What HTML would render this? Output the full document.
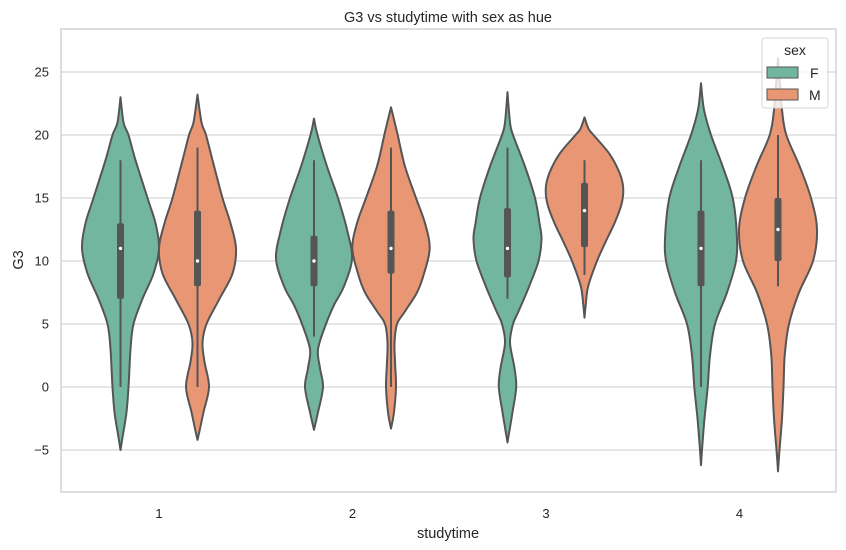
<!DOCTYPE html>
<html><head><meta charset="utf-8"><style>
body{margin:0;background:#fff;}
svg{display:block;font-family:"Liberation Sans","DejaVu Sans",sans-serif;}
</style></head><body>
<svg id="chart" width="846" height="550" viewBox="0 0 846 550"></svg>
<script>
const categories = ["1","2","3","4"];
const hues = ["F","M"];
const yTicks = [-5,0,5,10,15,20,25];
// violin profiles: [G3 value, relative density half-width]
const profileF1 = [[23,0],[21,3],[20,8],[18,15],[15,27],[13,35],[11,38.5],[9,33],[7,22],[5,13],[3,10],[0,8],[-2,6],[-4,2],[-5,0]];
const profileM1 = [[23.2,0],[21,4],[20,8.5],[18,15],[15,25],[13,33],[11,38.5],[9,35],[7,22],[5,9],[3.5,5],[2,7],[0,11.5],[-2,6],[-3.5,2],[-4.2,0]];
const profileF2 = [[21.3,0],[20,3.5],[17.5,13],[15,24],[12.5,33],[10.2,38],[8,30],[6.5,20],[5,12],[3,4],[1.5,6],[0,9],[-2,4],[-3.4,0]];
const profileM2 = [[22.2,0],[20,6.7],[17.5,14],[15,25],[13,34],[11,38.7],[9,33],[7.5,26],[6,14],[5,6],[3.5,3.5],[2,4],[0,5],[-2,3],[-3.3,0]];
const profileF3 = [[23.4,0],[21,2.5],[20,5.5],[17.5,17.5],[15,27.5],[13,32],[11.7,34],[10,31],[8,21.7],[6,11],[5,5.5],[3.5,2.5],[1.5,7],[0,8.7],[-2,5],[-4.4,0]];
const profileM3 = [[21.4,0],[20.5,4],[20,9],[18.5,25],[17,35],[15.8,38.7],[14.5,37],[13,30],[11.5,21],[10,12.5],[8,3.7],[6.5,1.2],[5.5,0]];
const profileF4 = [[24.1,0],[22,3],[20,10],[17.5,21.7],[15,31.7],[12.1,35.8],[10,35],[7.5,26],[5,14],[2.5,9],[0,6.7],[-2.5,3.5],[-5,1],[-6.2,0]];
const profileM4 = [[26.1,0],[24,2],[22,4],[20,8.3],[17.5,21.7],[15,33],[12.5,39],[10,35],[7.5,21],[5,11],[2.5,6.7],[0,5.5],[-2.5,4],[-5,1.5],[-6.7,0]];
const profiles = [[profileF1,profileM1],[profileF2,profileM2],[profileF3,profileM3],[profileF4,profileM4]];
// box stats: [whiskerLow, q1, median, q3, whiskerHigh]
const boxF = [[0,7,11,13,18],[4,8,10,12,18],[7,8.7,11,14.2,19],[0,8,11,14,18]];
const boxM = [[0,8,10,14,19],[0,9,11,14,19],[8.9,11.1,14,16.2,18],[8,10,12.5,15,20]];

const NS="http://www.w3.org/2000/svg";
const svg=document.getElementById('chart');
const L=61,R=836,T=29,B=492;
const y=v=>387-v*12.6;
const xc=i=>159+193.5*i;
const dodge=h=>h===0?-38.5:38.5;
const wScale=1.0;
const colors=["#73b6a0","#e99675"];
function mk(tag,attrs,parent){const e=document.createElementNS(NS,tag);for(const k in attrs)e.setAttribute(k,attrs[k]);(parent||svg).appendChild(e);return e;}
yTicks.forEach(t=>{
  const g=mk('line',{x1:L,x2:R,y1:y(t),y2:y(t),stroke:'#cccccc','stroke-width':1.1});
  
  
  const tx=mk('text',{x:L-12,y:y(t)+4.5,'text-anchor':'end','font-size':13,fill:'#262626'});
  tx.textContent=t<0?'\u2212'+Math.abs(t):t;
  
  
});
categories.forEach((c,i)=>{
  const tx=mk('text',{x:xc(i),y:518,'text-anchor':'middle','font-size':13,fill:'#262626'});
  tx.textContent=c;
  
  
});
function smoothSide(pts){
  let d='';
  for(let i=0;i<pts.length-1;i++){
    const p0=pts[Math.max(0,i-1)],p1=pts[i],p2=pts[i+1],p3=pts[Math.min(pts.length-1,i+2)];
    const c1=[p1[0]+(p2[0]-p0[0])/6,p1[1]+(p2[1]-p0[1])/6];
    const c2=[p2[0]-(p3[0]-p1[0])/6,p2[1]-(p3[1]-p1[1])/6];
    d+=` C${c1[0].toFixed(1)},${c1[1].toFixed(1)} ${c2[0].toFixed(1)},${c2[1].toFixed(1)} ${p2[0].toFixed(1)},${p2[1].toFixed(1)}`;
  }
  return d;
}
profiles.forEach((pair,i)=>{
  pair.forEach((prof,h)=>{
    const cx=xc(i)+dodge(h);
    const right=prof.map(p=>[cx+p[1]*wScale,y(p[0])]);
    const left=prof.slice().reverse().map(p=>[cx-p[1]*wScale,y(p[0])]);
    let d=`M${right[0][0]},${right[0][1]}`+smoothSide(right)+` L${left[0][0]},${left[0][1]}`+smoothSide(left)+'Z';
    const v=mk('path',{d:d,fill:colors[h],stroke:'#555555','stroke-width':2,'stroke-linejoin':'round'});
    
    
    const b=(h===0?boxF:boxM)[i];
    const wl=mk('line',{x1:cx,x2:cx,y1:y(b[0]),y2:y(b[4]),stroke:'#555555','stroke-width':2});
    
    
    const bx=mk('rect',{x:cx-3.5,y:y(b[3]),width:7,height:y(b[1])-y(b[3]),rx:2,fill:'#555555'});
    
    
    const md=mk('circle',{cx:cx,cy:y(b[2]),r:1.7,fill:'#fff'});
    
    
  });
});
const sp=mk('rect',{x:L,y:T,width:R-L,height:B-T,fill:'none',stroke:'#cccccc','stroke-width':1.3});


</script>
<script>
const s=document.getElementById('chart');
s.insertAdjacentHTML('beforeend',`
<text x="448" y="22" text-anchor="middle" font-size="14.5" fill="#262626">G3 vs studytime with sex as hue</text>
<text x="448" y="538" text-anchor="middle" font-size="14.5" fill="#262626">studytime</text>
<text transform="translate(23,260) rotate(-90)" text-anchor="middle" font-size="14.5" fill="#262626">G3</text>
<g>
<rect x="762" y="38" width="66" height="70" rx="3" fill="#ffffff" fill-opacity="0.8" stroke="#d6d6d6"/>
<text x="795" y="55" text-anchor="middle" font-size="14" fill="#262626">sex</text>
<rect x="767" y="67" width="31" height="11" fill="#73b6a0" stroke="#555555"/>
<text x="810" y="78" font-size="14" fill="#262626">F</text>
<rect x="767" y="89" width="31" height="11" fill="#e99675" stroke="#555555"/>
<text x="809" y="100" font-size="14" fill="#262626">M</text>
</g>`);
</script>
</body></html>
